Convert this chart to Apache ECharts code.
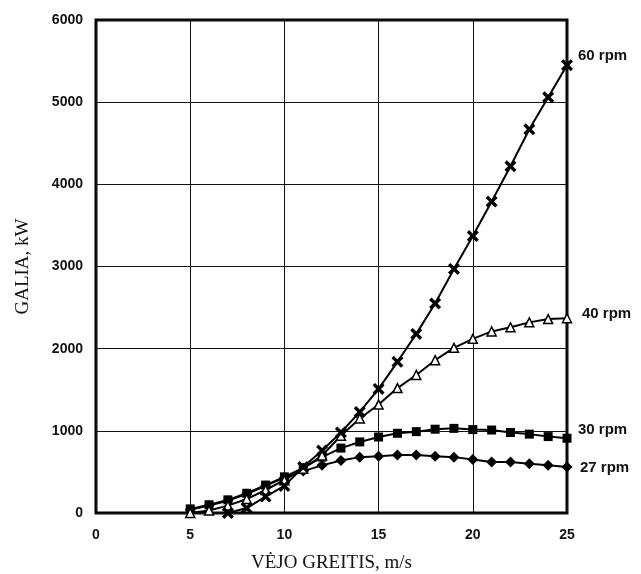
<!DOCTYPE html>
<html>
<head>
<meta charset="utf-8">
<script src="https://cdn.jsdelivr.net/npm/echarts@6/dist/echarts.min.js"></script>
<style>
  html, body { margin: 0; padding: 0; background: #fff; }
  #chart-container { width: 641px; height: 574px; }
</style>
</head>
<body>
<div id="chart-container"></div>
<script>
var dom = document.getElementById("chart-container");
var myChart = echarts.init(dom, null, { renderer: "canvas" });

// wind speed, m/s
var speeds = [5, 6, 7, 8, 9, 10, 11, 12, 13, 14, 15, 16, 17, 18, 19, 20, 21, 22, 23, 24, 25];
// power, kW
var rpm27 = [40, 90, 150, 230, 330, 430, 510, 580, 640, 680, 690, 705, 705, 690, 680, 650, 620, 620, 600, 580, 560];
var rpm30 = [50, 100, 160, 240, 340, 440, 550, 680, 790, 865, 925, 970, 990, 1020, 1030, 1015, 1010, 980, 960, 930, 910];
var rpm40 = [0, 30, 90, 170, 280, 400, 540, 700, 940, 1150, 1320, 1520, 1680, 1860, 2010, 2120, 2210, 2260, 2320, 2360, 2370];
var rpm60 = [null, null, 0, 60, 200, 330, 560, 760, 980, 1230, 1510, 1840, 2180, 2550, 2970, 3370, 3790, 4220, 4670, 5060, 5450];

function pairs(vals) {
  var out = [];
  for (var i = 0; i < speeds.length; i++) {
    if (vals[i] !== null) out.push([speeds[i], vals[i]]);
  }
  return out;
}

var crossPath = "path://M0,2 L2,0 L5,3 L8,0 L10,2 L7,5 L10,8 L8,10 L5,7 L2,10 L0,8 L3,5 Z";
var sansBold = { fontFamily: "Arial, 'Liberation Sans', sans-serif", fontWeight: "bold", color: "#111" };
var serif = "'Liberation Serif', 'DejaVu Serif', serif";

function makeSeries(name, vals, symbol, size, fill, labelOffset) {
  return {
    name: name,
    type: "line",
    data: pairs(vals),
    symbol: symbol,
    symbolSize: size,
    showAllSymbol: true,
    lineStyle: { color: "#000", width: 2 },
    itemStyle: { color: fill, borderColor: "#000", borderWidth: fill === "#fff" ? 1.5 : 0 },
    endLabel: Object.assign({ show: true, formatter: name, offset: labelOffset, fontSize: 15 }, sansBold),
    animation: false,
    z: 3,
  };
}

var option = {
  animation: false,
  grid: {
    left: 96, right: 74, top: 20, bottom: 61,
    outerBoundsMode: "none",
    show: true, borderColor: "#000", borderWidth: 3,
  },
  xAxis: {
    type: "value",
    min: 0,
    max: 25,
    interval: 5,
    name: "VĖJO GREITIS, m/s",
    nameLocation: "middle",
    nameGap: 41,
    nameTextStyle: { fontFamily: serif, fontSize: 19, color: "#111" },
    axisLine: { show: false },
    axisTick: { show: false },
    axisLabel: Object.assign({ margin: 15, fontSize: 14 }, sansBold),
    splitLine: { show: true, lineStyle: { color: "#111", width: 1 } },
  },
  yAxis: {
    type: "value",
    min: 0,
    max: 6000,
    interval: 1000,
    name: "GALIA, kW",
    nameLocation: "middle",
    nameGap: 63,
    nameTextStyle: { fontFamily: serif, fontSize: 19, color: "#111" },
    axisLine: { show: false },
    axisTick: { show: false },
    axisLabel: Object.assign({
      margin: 13,
      fontSize: 14,
      formatter: function (v) { return String(v); },
    }, sansBold),
    splitLine: { show: true, lineStyle: { color: "#111", width: 1 } },
  },
  series: [
    makeSeries("27 rpm", rpm27, "diamond", 11, "#000", [5, 1]),
    makeSeries("30 rpm", rpm30, "rect", 9, "#000", [3, -8]),
    makeSeries("40 rpm", rpm40, "triangle", 9, "#fff", [7, -4]),
    makeSeries("60 rpm", rpm60, crossPath, 12, "#000", [3, -9]),
  ],
};

myChart.setOption(option);
window.addEventListener("resize", myChart.resize);
</script>
</body>
</html>
